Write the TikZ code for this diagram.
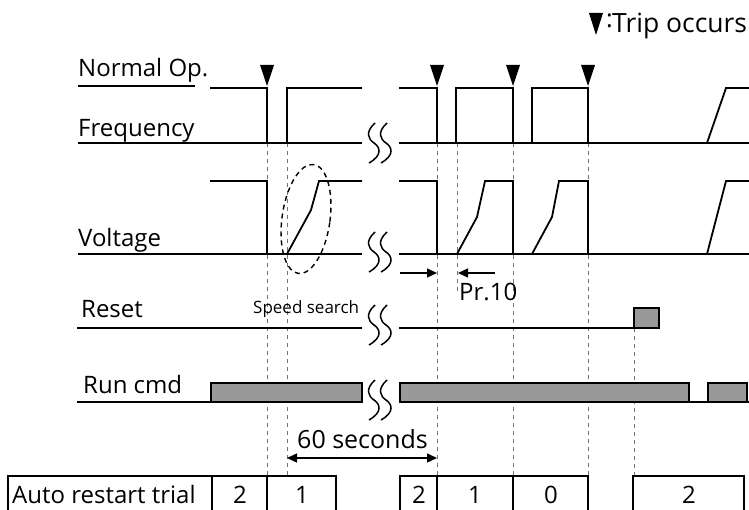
\documentclass[tikz,border=0pt]{standalone}
\usepackage{fontspec}
\setmainfont{Open Sans}
\usetikzlibrary{arrows.meta}
\tikzset{
    sig/.style={line width=1.8pt},
    guide/.style={gray!90!black, line width=1pt, dash pattern=on 4pt off 4pt},
    lbl/.style={font=\fontsize{24}{27}\selectfont, inner sep=0pt, anchor=base west},
    cell/.style={font=\fontsize{24}{26}\selectfont, inner sep=0pt, anchor=base},
    trip/.style={fill=black},
    bar/.style={fill=gray!80, draw=black, line width=1.6pt},
    tip/.style={-{Triangle[length=10pt,width=9pt]}, line width=1.4pt}
}
% squiggle for the time break
\newcommand{\brk}[1]{%
    \foreach \dx in {0,12}{
        \draw[line width=1.5pt, shift={(374+\dx,#1)}] (1,-20) .. controls (-9,-11) and (-6,-4) .. (0,0) .. controls (6,4) and (9,12) .. (-5,20);
    }%
}
\begin{document}
\begin{tikzpicture}[x=1pt,y=-1pt]
                    \useasboundingbox (0,0) rectangle (749,510);
                    % Guide lines
                    \foreach \t in {267,287,437,513,588}
                        \draw[guide] (\t,143) -- (\t,476);
                    \draw[guide] (457,143) -- (457,292);
                    \draw[guide] (634,328) -- (634,476);
                    % Legend
                    \fill[trip] (589,13) -- (603,13) -- (596,35) -- cycle;
                    \node[lbl, font=\fontsize{25}{28}\selectfont] (colon) at (606,28) {:};
                    \node[lbl, font=\fontsize{26.5}{29}\selectfont] (legend) at (612,33) {Trip occurs};
                    % Normal Op.
                    \node[lbl] (normal) at (78,77) {Normal Op.};
                    \draw[line width=1.2pt] (78,86) -- (195,86);
                    \foreach \t in {267,437,513,588}
                        \fill[trip] (\t-7,65) -- (\t+7,65) -- (\t,86) -- cycle;
                    % Frequency
                    \node[lbl] (freq) at (78,137) {Frequency};
                    \draw[sig] (78,143) -- (362,143);
                    \draw[sig] (399,143) -- (749,143);
                    \draw[sig] (210,88) -- (267,88) -- (267,143);
                    \draw[sig] (287,143) -- (287,88) -- (362,88);
                    \draw[sig] (399,88) -- (437,88) -- (437,143);
                    \draw[sig] (456,143) -- (456,88) -- (513,88) -- (513,143);
                    \draw[sig] (532,143) -- (532,88) -- (588,88) -- (588,143);
                    \draw[sig] (707,143) -- (726,88) -- (749,88);
                    % Voltage
                    \node[lbl] (volt) at (78,247) {Voltage};
                    \draw[sig] (78,254) -- (362,254);
                    \draw[sig] (399,254) -- (749,254);
                    \draw[sig] (210,181) -- (267,181) -- (267,254);
                    \draw[sig] (287,254) -- (311,210) -- (319,181) -- (362,181);
                    \draw[sig] (399,181) -- (437,181) -- (437,254);
                    \draw[sig] (457,254) -- (477,217) -- (485,181) -- (513,181) -- (513,254);
                    \draw[sig] (532,254) -- (552,217) -- (559,181) -- (588,181) -- (588,254);
                    \draw[sig] (707,254) -- (726,181) -- (749,181);
                    \draw[line width=1.4pt, dash pattern=on 5pt off 4pt, rotate around={-8:(306,219)}] (306,219) ellipse [x radius=24, y radius=55];
                    % Pr.10
                    \coordinate (pa) at (400,273);
                    \coordinate (pb) at (437,273);
                    \coordinate (pc) at (495,273);
                    \coordinate (pd) at (458,273);
                    \draw[tip] (pa) -- (pb);
                    \draw[tip] (pc) -- (pd);
                    \node[lbl] (pr) at (459,301) {Pr.10};
                    % Reset
                    \node[lbl] (reset) at (81,318) {Reset};
                    \node[lbl, font=\fontsize{17}{20}\selectfont] (search) at (253,314) {Speed search};
                    \draw[sig] (77,328) -- (362,328);
                    \draw[sig] (399,328) -- (634,328);
                    \draw[bar] (634,308) rectangle (659,328);
                    % Run cmd
                    \node[lbl] (run) at (83,393) {Run cmd};
                    \draw[line width=2.4pt] (77,402) -- (362,402);
                    \draw[line width=2.4pt] (399,402) -- (749,402);
                    \draw[bar] (211,383) rectangle (362,402);
                    \draw[bar] (400,383) rectangle (689,402);
                    \draw[bar] (708,383) rectangle (747,402);
                    % Breaks
                    \foreach \y in {143,252,325,400}
                        \brk{\y}
                    % 60 seconds
                    \coordinate (sa) at (287,458);
                    \coordinate (sb) at (437,458);
                    \draw[tip, {Triangle[length=10pt,width=9pt]}-{Triangle[length=10pt,width=9pt]}] (sa) -- (sb);
                    \node[lbl, font=\fontsize{25}{27}\selectfont] (sixty) at (297,448) {60 seconds};
                    % Auto restart trial
                    \draw[line width=1.6pt] (8,515) -- (8,476) -- (336,476) -- (336,515);
                    \draw[line width=1.6pt] (212,476) -- (212,515);
                    \draw[line width=1.6pt] (267,476) -- (267,515);
                    \draw[line width=1.6pt] (400,515) -- (400,476) -- (588,476) -- (588,515);
                    \draw[line width=1.6pt] (437,476) -- (437,515);
                    \draw[line width=1.6pt] (513,476) -- (513,515);
                    \draw[line width=1.6pt] (633,515) -- (633,476) -- (744,476) -- (744,515);
                    \node[lbl] (trial) at (12,503) {Auto restart trial};
                    \node[cell] (c1) at (240,503) {2};
                    \node[cell] (c2) at (302,503) {1};
                    \node[cell] (c3) at (419,503) {2};
                    \node[cell] (c4) at (475,503) {1};
                    \node[cell] (c5) at (551,503) {0};
                    \node[cell] (c6) at (689,503) {2};
\end{tikzpicture}
\end{document}
